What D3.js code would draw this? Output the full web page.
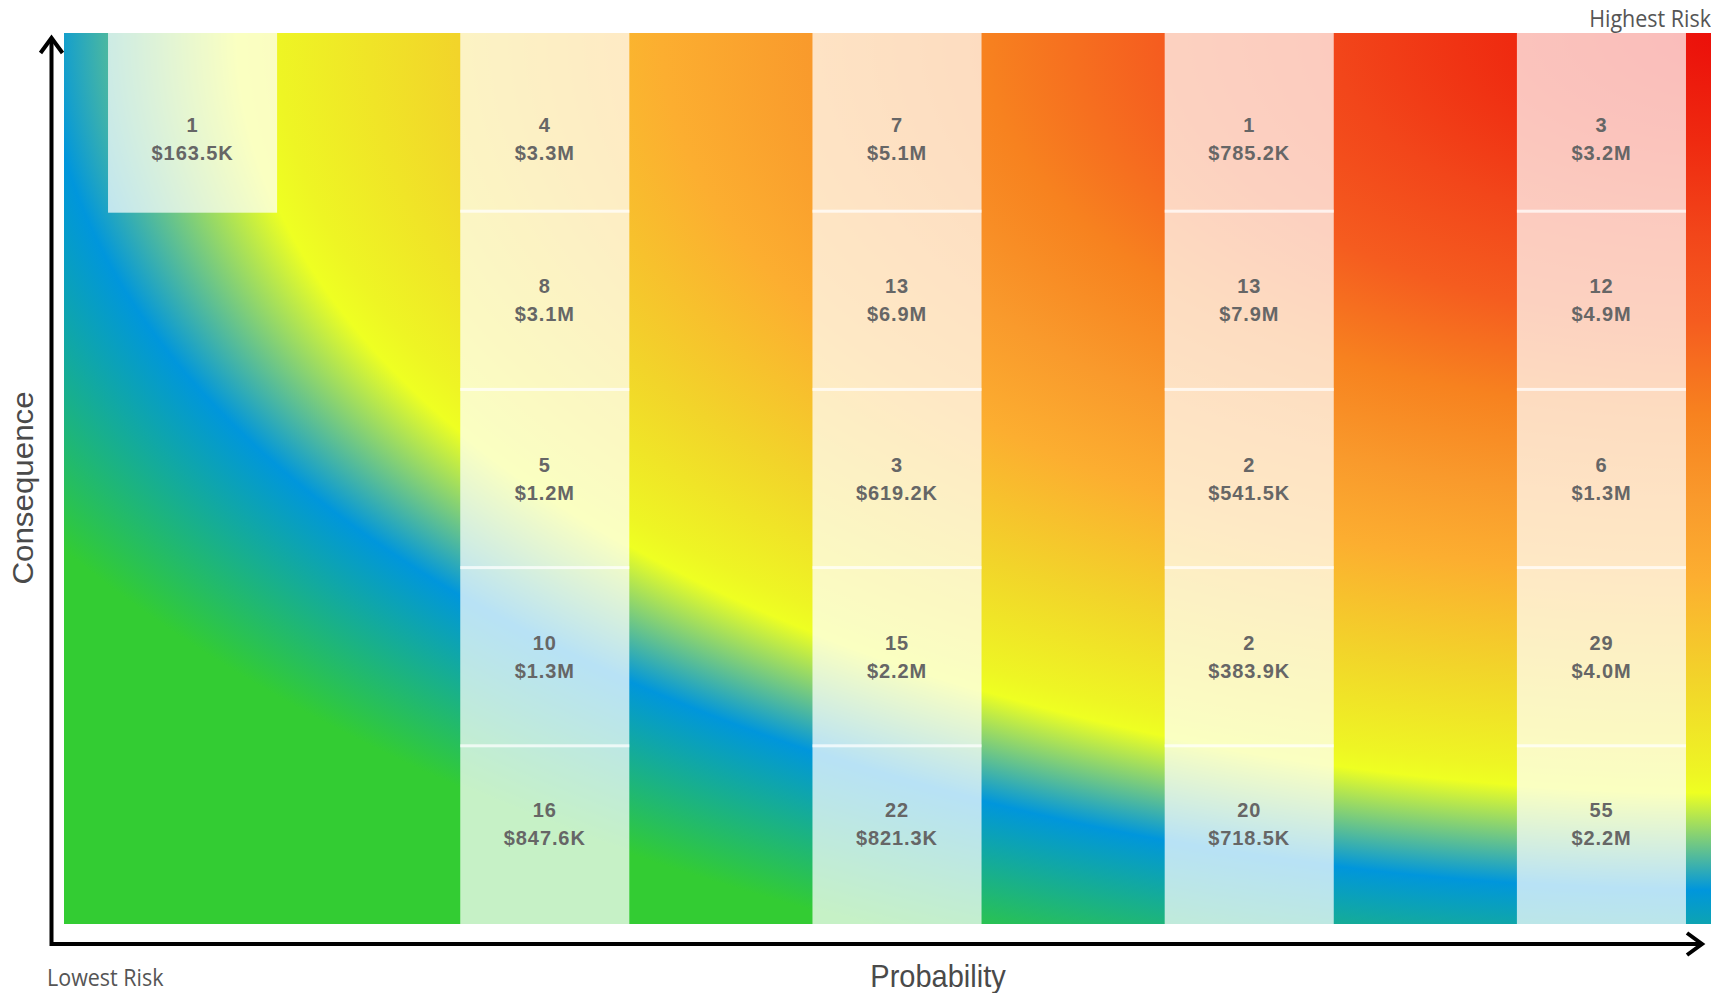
<!DOCTYPE html>
<html>
<head>
<meta charset="utf-8">
<script src="https://cdn.jsdelivr.net/npm/d3@7"></script>
<style>
  html, body { margin: 0; padding: 0; background: #ffffff; overflow: hidden; }
  svg { display: block; }
</style>
</head>
<body>
<svg id="chart" width="1711" height="993"></svg>
<script>
// ---------------- DATA ----------------
const probabilities = ["1", "2", "3", "4", "5"];          // x categories (left → right)
const consequences  = ["5", "4", "3", "2", "1"];          // y categories (top → bottom)

// Number of risks per cell, one array per consequence level (index = probability)
const countsC5 = [1, 4, 7, 1, 3];
const countsC4 = [null, 8, 13, 13, 12];
const countsC3 = [null, 5, 3, 2, 6];
const countsC2 = [null, 10, 15, 2, 29];
const countsC1 = [null, 16, 22, 20, 55];

// Exposure value per cell (USD)
const valuesC5 = [163500, 3300000, 5100000, 785200, 3200000];
const valuesC4 = [null, 3100000, 6900000, 7900000, 4900000];
const valuesC3 = [null, 1200000, 619200, 541500, 1300000];
const valuesC2 = [null, 1300000, 2200000, 383900, 4000000];
const valuesC1 = [null, 847600, 821300, 718500, 2200000];

const xAxisTitle = "Probability";
const yAxisTitle = "Consequence";
const lowLabel = "Lowest Risk";
const highLabel = "Highest Risk";

// ---------------- LAYOUT ----------------
const plotLeft = 64, plotTop = 33, plotRight = 1730, plotBottom = 924;
const axisX = 51.5, axisY = 944;

const svg = d3.select("#chart");

const x = d3.scaleBand()
  .domain(probabilities)
  .range([plotLeft, plotRight])
  .paddingInner(0.52)
  .paddingOuter(0.125);

const y = d3.scaleBand()
  .domain(consequences)
  .range([plotTop, plotBottom]);

// ---------------- BACKGROUND RISK GRADIENT ----------------
const W = plotRight - plotLeft, H = plotBottom - plotTop;
const gradStops = [
  [0.000, "#eb0e0a"],
  [0.095, "#ef2a10"],
  [0.175, "#f2461a"],
  [0.249, "#f55c1f"],
  [0.329, "#f7821f"],
  [0.404, "#f99a2c"],
  [0.470, "#fcae30"],
  [0.559, "#f2d42a"],
  [0.639, "#eef524"],
  [0.656, "#eeff22"],
  [0.740, "#0096dc"],
  [0.858, "#33cc33"],
  [1.000, "#33cc33"]
];
const defs = svg.append("defs");
const grad = defs.append("radialGradient")
  .attr("id", "riskGradient")
  .attr("gradientUnits", "userSpaceOnUse")
  .attr("cx", 0).attr("cy", 0).attr("r", 1).attr("fx", 0).attr("fy", 0)
  .attr("gradientTransform", `translate(${plotRight},${plotTop}) scale(${1.365 * W},${1.3 * H})`);
grad.selectAll("stop").data(gradStops).join("stop")
  .attr("offset", d => d[0])
  .attr("stop-color", d => d[1]);

svg.append("rect")
  .attr("x", plotLeft).attr("y", plotTop)
  .attr("width", W).attr("height", H)
  .attr("fill", "url(#riskGradient)");

// ---------------- CELLS ----------------
const rowData = [
  { c: "5", counts: countsC5, values: valuesC5 },
  { c: "4", counts: countsC4, values: valuesC4 },
  { c: "3", counts: countsC3, values: valuesC3 },
  { c: "2", counts: countsC2, values: valuesC2 },
  { c: "1", counts: countsC1, values: valuesC1 }
];
const cells = rowData.flatMap(r =>
  probabilities.map((p, i) => ({ p, c: r.c, n: r.counts[i], v: r.values[i] }))
).filter(d => d.n != null);

const fmtMoney = v => v >= 1e6 ? "$" + (v / 1e6).toFixed(1) + "M" : "$" + (v / 1e3).toFixed(1) + "K";

const cellG = svg.append("g");
cellG.selectAll("rect").data(cells).join("rect")
  .attr("x", d => x(d.p))
  .attr("y", d => y(d.c) - 1.5)
  .attr("width", x.bandwidth())
  .attr("height", y.bandwidth() + 3)
  .attr("fill", "#ffffff")
  .attr("fill-opacity", 0.72);

const labelY = d => Math.max(plotTop + 106, Math.min(plotBottom - 100, y(d.c) + y.bandwidth() / 2));

const labels = svg.append("g")
  .attr("font-family", "'Liberation Sans', Arial, Helvetica, sans-serif")
  .attr("font-weight", "bold")
  .attr("font-size", 20)
  .attr("letter-spacing", "0.9px")
  .attr("fill", "#666666")
  .attr("text-anchor", "middle");

labels.selectAll("text.count").data(cells).join("text")
  .attr("class", "count")
  .attr("x", d => x(d.p) + x.bandwidth() / 2)
  .attr("y", d => labelY(d) - 14)
  .attr("dominant-baseline", "central")
  .text(d => d.n);

labels.selectAll("text.value").data(cells).join("text")
  .attr("class", "value")
  .attr("x", d => x(d.p) + x.bandwidth() / 2)
  .attr("y", d => labelY(d) + 14)
  .attr("dominant-baseline", "central")
  .text(d => fmtMoney(d.v));

// ---------------- AXES (arrows) ----------------
const axes = svg.append("g")
  .attr("fill", "none")
  .attr("stroke", "#000")
  .attr("stroke-width", 4);
axes.append("path")
  .attr("d", `M${axisX},${plotTop + 5} L${axisX},${axisY} L1702,${axisY}`)
  .attr("stroke-linejoin", "miter");
axes.append("path")
  .attr("d", `M${axisX - 11},${plotTop + 20} L${axisX},${plotTop + 5} L${axisX + 11},${plotTop + 20}`);
axes.append("path")
  .attr("d", `M1687,${axisY - 11} L1702,${axisY} L1687,${axisY + 11}`);

// ---------------- TEXT ----------------
svg.append("text")
  .attr("transform", "translate(938,987) scale(1,1.08)")
  .attr("text-anchor", "middle")
  .attr("font-family", "'Liberation Sans', Arial, sans-serif")
  .attr("font-size", 29)
  .attr("fill", "#4a4a4a")
  .text(xAxisTitle);

svg.append("text")
  .attr("transform", "translate(33,488) scale(1,1.08) rotate(-90)")
  .attr("text-anchor", "middle")
  .attr("font-family", "'Liberation Sans', Arial, sans-serif")
  .attr("font-size", 29)
  .attr("fill", "#4a4a4a")
  .text(yAxisTitle);

svg.append("text")
  .attr("transform", "translate(47,986) scale(1,1.08)")
  .attr("text-anchor", "start")
  .attr("font-family", "'Open Sans', 'Noto Sans', sans-serif")
  .attr("font-size", 21.5)
  .attr("fill", "#555")
  .text(lowLabel);

svg.append("text")
  .attr("transform", "translate(1711,27) scale(1,1.08)")
  .attr("text-anchor", "end")
  .attr("font-family", "'Open Sans', 'Noto Sans', sans-serif")
  .attr("font-size", 21.5)
  .attr("fill", "#555")
  .text(highLabel);
</script>
</body>
</html>
